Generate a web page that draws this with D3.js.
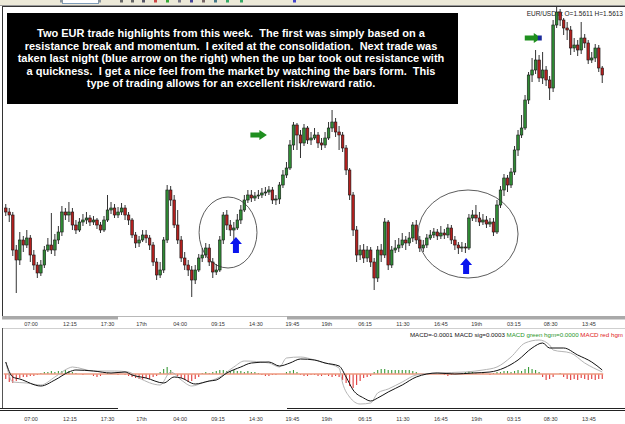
<!DOCTYPE html>
<html>
<head>
<meta charset="utf-8">
<script src="https://cdn.jsdelivr.net/npm/d3@7"></script>
<style>
body { margin: 0; background: #fff; }
svg { display: block; }
</style>
</head>
<body>
<div id="chart"></div>
<script>
// EUR/USD bars: [open, high, low, close]
const ohlc = [
[1.5471,1.5475,1.5463,1.5467],[1.5467,1.5471,1.5457,1.5464],[1.5464,1.5467,1.5423,1.5429],[1.5429,1.5434,1.5386,1.5419],
[1.5419,1.5447,1.5414,1.5439],[1.5439,1.5443,1.5427,1.5434],[1.5434,1.5449,1.5431,1.5441],[1.5441,1.5444,1.5417,1.5424],
[1.5424,1.5429,1.5409,1.5414],[1.5414,1.5417,1.5401,1.5406],[1.5406,1.5419,1.5403,1.5414],[1.5414,1.5433,1.5411,1.5429],
[1.5429,1.5441,1.5427,1.5434],[1.5434,1.5466,1.5425,1.5429],[1.5429,1.5445,1.5423,1.5439],[1.5439,1.5453,1.5435,1.5447],
[1.5447,1.5473,1.5443,1.5467],[1.5467,1.5471,1.5459,1.5464],[1.5464,1.5477,1.5457,1.5467],[1.5467,1.5471,1.5449,1.5454],
[1.5454,1.5459,1.5445,1.5449],[1.5449,1.5461,1.5447,1.5457],[1.5457,1.5465,1.5453,1.5459],[1.5459,1.5467,1.5455,1.5461],
[1.5461,1.5464,1.5453,1.5457],[1.5457,1.5463,1.5454,1.5459],[1.5459,1.5461,1.5450,1.5454],[1.5454,1.5457,1.5446,1.5449],
[1.5449,1.5463,1.5447,1.5459],[1.5459,1.5484,1.5457,1.5469],[1.5469,1.5477,1.5465,1.5471],[1.5471,1.5475,1.5461,1.5464],
[1.5464,1.5472,1.5461,1.5467],[1.5467,1.5476,1.5464,1.5471],[1.5471,1.5474,1.5459,1.5464],[1.5464,1.5467,1.5454,1.5459],
[1.5459,1.5461,1.5441,1.5444],[1.5444,1.5447,1.5431,1.5436],[1.5436,1.5443,1.5432,1.5439],[1.5439,1.5449,1.5437,1.5444],
[1.5444,1.5449,1.5436,1.5441],[1.5441,1.5444,1.5429,1.5434],[1.5434,1.5437,1.5413,1.5417],[1.5417,1.5421,1.5399,1.5404],
[1.5404,1.5417,1.5401,1.5409],[1.5409,1.5442,1.5406,1.5439],[1.5439,1.5494,1.5436,1.5489],[1.5489,1.5493,1.5473,1.5479],
[1.5479,1.5484,1.5451,1.5454],[1.5454,1.5469,1.5435,1.5439],[1.5439,1.5443,1.5417,1.5421],[1.5421,1.5427,1.5409,1.5414],
[1.5414,1.5419,1.5403,1.5409],[1.5409,1.5413,1.5382,1.5399],[1.5399,1.5414,1.5395,1.5409],[1.5409,1.5425,1.5407,1.5421],
[1.5421,1.5431,1.5417,1.5424],[1.5424,1.5436,1.5421,1.5431],[1.5431,1.5435,1.5413,1.5417],[1.5417,1.5421,1.5401,1.5407],
[1.5407,1.5415,1.5404,1.5409],[1.5409,1.5443,1.5407,1.5439],[1.5439,1.5467,1.5435,1.5464],[1.5464,1.5469,1.5449,1.5454],
[1.5454,1.5459,1.5443,1.5449],[1.5449,1.5457,1.5439,1.5451],[1.5451,1.5465,1.5449,1.5459],[1.5459,1.5474,1.5455,1.5469],
[1.5469,1.5484,1.5467,1.5479],[1.5479,1.5489,1.5476,1.5484],[1.5484,1.5489,1.5477,1.5481],[1.5481,1.5487,1.5478,1.5483],
[1.5483,1.5489,1.5480,1.5484],[1.5484,1.5491,1.5481,1.5486],[1.5486,1.5492,1.5483,1.5487],[1.5487,1.5493,1.5484,1.5489],
[1.5489,1.5492,1.5475,1.5479],[1.5479,1.5484,1.5474,1.5480],[1.5480,1.5497,1.5475,1.5494],[1.5494,1.5509,1.5491,1.5504],
[1.5504,1.5517,1.5501,1.5511],[1.5511,1.5539,1.5509,1.5534],[1.5534,1.5557,1.5529,1.5554],[1.5554,1.5556,1.5529,1.5544],
[1.5544,1.5549,1.5521,1.5536],[1.5536,1.5555,1.5533,1.5551],[1.5551,1.5553,1.5535,1.5539],[1.5539,1.5547,1.5534,1.5541],
[1.5541,1.5551,1.5539,1.5544],[1.5544,1.5547,1.5531,1.5536],[1.5536,1.5541,1.5529,1.5534],[1.5534,1.5547,1.5531,1.5541],
[1.5541,1.5557,1.5539,1.5551],[1.5551,1.5569,1.5547,1.5557],[1.5557,1.5561,1.5542,1.5547],[1.5547,1.5553,1.5529,1.5544],
[1.5544,1.5547,1.5527,1.5531],[1.5531,1.5534,1.5504,1.5509],[1.5509,1.5511,1.5479,1.5484],[1.5484,1.5487,1.5443,1.5449],
[1.5449,1.5453,1.5417,1.5424],[1.5424,1.5434,1.5419,1.5429],[1.5429,1.5435,1.5416,1.5421],[1.5421,1.5433,1.5417,1.5429],
[1.5429,1.5432,1.5412,1.5417],[1.5417,1.5421,1.5389,1.5401],[1.5401,1.5433,1.5397,1.5429],[1.5429,1.5435,1.5417,1.5424],
[1.5424,1.5461,1.5421,1.5457],[1.5457,1.5459,1.5409,1.5414],[1.5414,1.5433,1.5411,1.5429],[1.5429,1.5439,1.5426,1.5431],
[1.5431,1.5441,1.5427,1.5434],[1.5434,1.5446,1.5431,1.5439],[1.5439,1.5443,1.5429,1.5436],[1.5436,1.5447,1.5433,1.5441],
[1.5441,1.5457,1.5437,1.5454],[1.5454,1.5459,1.5435,1.5439],[1.5439,1.5443,1.5427,1.5431],[1.5431,1.5439,1.5427,1.5434],
[1.5434,1.5445,1.5431,1.5441],[1.5441,1.5449,1.5439,1.5444],[1.5444,1.5451,1.5441,1.5447],[1.5447,1.5450,1.5439,1.5443],
[1.5443,1.5453,1.5440,1.5446],[1.5446,1.5450,1.5440,1.5444],[1.5444,1.5455,1.5441,1.5451],[1.5451,1.5454,1.5435,1.5439],
[1.5439,1.5443,1.5429,1.5434],[1.5434,1.5437,1.5425,1.5431],[1.5431,1.5437,1.5427,1.5432],[1.5432,1.5436,1.5426,1.5431],
[1.5431,1.5465,1.5429,1.5461],[1.5461,1.5469,1.5458,1.5464],[1.5464,1.5474,1.5457,1.5461],[1.5461,1.5467,1.5453,1.5457],
[1.5457,1.5465,1.5454,1.5459],[1.5459,1.5463,1.5451,1.5455],[1.5455,1.5461,1.5452,1.5457],[1.5457,1.5461,1.5443,1.5447],
[1.5447,1.5479,1.5445,1.5474],[1.5474,1.5493,1.5471,1.5489],[1.5489,1.5505,1.5483,1.5501],[1.5501,1.5504,1.5487,1.5494],
[1.5494,1.5511,1.5491,1.5507],[1.5507,1.5533,1.5504,1.5529],[1.5529,1.5549,1.5523,1.5544],[1.5544,1.5564,1.5541,1.5551],
[1.5551,1.5584,1.5549,1.5579],[1.5579,1.5607,1.5575,1.5604],[1.5604,1.5621,1.5597,1.5609],[1.5609,1.5629,1.5605,1.5619],
[1.5619,1.5624,1.5597,1.5601],[1.5601,1.5627,1.5595,1.5609],[1.5609,1.5613,1.5593,1.5599],[1.5599,1.5603,1.5579,1.5591],
[1.5591,1.5659,1.5587,1.5654],[1.5654,1.5672,1.5651,1.5667],[1.5667,1.5670,1.5653,1.5659],[1.5659,1.5661,1.5644,1.5651],
[1.5651,1.5657,1.5639,1.5649],[1.5649,1.5653,1.5624,1.5631],[1.5631,1.5641,1.5627,1.5634],[1.5634,1.5639,1.5623,1.5629],
[1.5629,1.5657,1.5625,1.5641],[1.5641,1.5645,1.5631,1.5636],[1.5636,1.5639,1.5615,1.5619],[1.5619,1.5627,1.5616,1.5621],
[1.5621,1.5635,1.5617,1.5631],[1.5631,1.5634,1.5607,1.5611],[1.5611,1.5613,1.5596,1.5604]
];

// MACD histogram, one value per bar
const histogram = [
-0.0005,-0.0008,-0.0009,-0.0007,-0.0004,-0.0003,-0.0003,-0.0002,-0.0002,-0.0001,
0.0001,0.0002,0.0002,0.0003,0.0002,0.0003,0.0003,0.0004,0.0003,0.0002,
0.0001,0,-0.0001,0,0,-0.0002,-0.0003,-0.0002,0,0.0001,
0,0,-0.0001,0,-0.0001,-0.0002,-0.0003,-0.0004,-0.0005,-0.0006,
-0.0004,-0.0005,-0.0003,-0.0002,0.0002,0.0005,0.0007,0.0004,0.0001,-0.0002,
-0.0004,-0.0006,-0.0008,-0.0007,-0.0005,-0.0003,0.0001,0.0002,0.0001,0.0002,
0.0003,0.0004,0.0004,0.0003,0.0003,0.0004,0.0003,0.0003,0.0002,0.0003,
0.0002,0.0002,0.0001,-0.0001,-0.0002,-0.0002,-0.0001,-0.0001,0,0,
0.0002,0.0003,0.0004,0.0002,-0.0001,-0.0002,-0.0002,-0.0001,-0.0001,-0.0002,
-0.0002,-0.0001,-0.0002,-0.0003,-0.0002,-0.0003,-0.0006,-0.0009,-0.0012,-0.0014,
-0.0011,-0.0007,-0.0004,-0.0003,-0.0002,0.0002,0.0004,0.0005,0.0005,0.0004,
0.0004,0.0004,0.0004,0.0004,0.0004,0.0004,0.0003,0.0002,0,0,
0.0001,0.0001,0,0.0001,0.0001,-0.0001,-0.0002,-0.0001,0,0,
0.0001,0.0002,0.0003,0.0002,0.0001,0,0.0001,0,-0.0001,0.0001,
0.0002,0.0002,0.0003,0.0003,0.0002,0.0003,0.0004,0.0003,0.0005,0.0007,
0.0005,0.0004,0.0002,-0.0003,-0.0006,-0.0005,-0.0003,0,0.0001,-0.0003,
-0.0005,-0.0006,-0.0005,-0.0006,-0.0004,-0.0005,-0.0006,-0.0005,-0.0006,-0.0005,-0.0005
];

// MACD and signal lines: [bar index, value]
const macdLine = [
[0,0.0012],[2,-0.0003],[4,-0.0005],[10,-0.0012],[14,-0.0006],[18,0.0002],[20,0.0004],[25,0.0003],
[30,0.0001],[34,0.0002],[36,-0.0001],[40,-0.0004],[45,-0.0009],[48,-0.0003],[50,-0.0004],[54,-0.0010],
[58,-0.0007],[60,-0.0006],[63,0.0001],[67,0.0007],[70,0.0011],[75,0.0012],[78,0.0008],[81,0.0011],
[84,0.0015],[88,0.0014],[91,0.0011],[95,0.0008],[97,-0.0003],[99,-0.0016],[102,-0.0024],[104,-0.0027],
[106,-0.0024],[109,-0.0018],[113,-0.0011],[117,-0.0003],[123,0.0001],[128,0],[133,0.0001],[138,0.0002],
[142,0.0006],[146,0.0014],[150,0.0026],[153,0.0031],[155,0.0026],[159,0.0026],[163,0.0019],[167,0.0012],[170,0.0004]
];
const signalLine = [
[0,0.0012],[2,-0.0008],[6,-0.0009],[10,-0.0011],[14,-0.0003],[18,0.0006],[19,0.0007],[25,0.0003],
[31,0.0003],[35,0.0002],[38,-0.0004],[44,-0.0011],[47,0.0002],[50,-0.0006],[53,-0.0012],[56,-0.0009],
[61,-0.0003],[65,0.0007],[68,0.0013],[75,0.0011],[78,0.0007],[80,0.0016],[84,0.0017],[88,0.0014],
[91,0.0011],[95,0.0006],[96,-0.0009],[98,-0.0023],[101,-0.0030],[104,-0.0029],[106,-0.0019],[109,-0.0015],
[113,-0.0008],[117,-0.0001],[123,0.0001],[131,0.0002],[136,0.0004],[140,0.0007],[144,0.0017],[148,0.0031],
[152,0.0034],[155,0.0029],[156,0.0024],[161,0.0021],[165,0.0011],[170,0.0002]
];

// time axis: label and the bar it sits on
const tickLabels = ["07:00","12:15","17:30","17th","04:00","09:15","14:30","19:45","19th","06:15","11:30","16:45","19th","03:15","08:30","13:45"];
const tickBars = [7.2, 18.3, 29, 38.7, 49.7, 60.5, 71.3, 81.7, 91.5, 102.4, 113.2, 124, 134.2, 144.8, 155.3, 166.2];

// annotations, in bar / price terms
const rightArrows = [[72.5, 1.5544], [150.7, 1.5641]];
const upArrows = [[66.1, 1.5442], [131.7, 1.5421]];
const rings = [[55.6, 72.1, 1.5482, 1.5411], [118.0, 146.5, 1.5489, 1.5401]];

const noteLines = [
    "Two EUR trade highlights from this week.  The first was simply based on a",
    "resistance break and momentum.  I exited at the consolidation.  Next trade was",
    "taken last night (blue arrow on the right) when the up bar took out resistance with",
    "a quickness.  I get a nice feel from the market by watching the bars form.  This",
    "type of trading allows for an excellent risk/reward ratio."
];


class CandleChart {

    constructor(_parentElement) {
        this.parentElementID = _parentElement;
        this.width = 625;
        this.height = 424;
        this.initVis();
    }

    initVis() {
        const self = this;

        self.svg = d3.select("#" + self.parentElementID).append("svg")
            .attr("width", self.width)
            .attr("height", self.height)
            .style("font-family", "'Liberation Sans', Arial, sans-serif");

        self.xScale = d3.scaleLinear().domain([0, ohlc.length]).range([4, 604]);
        self.cx = i => self.xScale(i + 0.5);
        self.yScale = d3.scaleLinear().domain([1.5379, 1.5679]).range([300, 0]);
        self.mScale = d3.scaleLinear().domain([-0.0034, 0.0046]).range([408, 328]);

        self.drawFrame();
        self.drawCandles();
        self.drawNotes();
        self.drawMacd();
        self.drawAxes();
    }

    drawFrame() {
        const self = this;
        // bit of the toolbar above the chart
        self.svg.append("rect").attr("x", 0).attr("y", 0).attr("width", self.width).attr("height", 5).attr("fill", "#ece9d8");
        self.svg.append("rect").attr("x", 62.5).attr("y", -2).attr("width", 36).attr("height", 5.5)
            .attr("fill", "#fff").attr("stroke", "#7f9db9");
        [60, 98, 120, 131, 142, 154, 166, 178, 190, 202, 214, 226, 240, 293].forEach((x, k) => {
            self.svg.append("rect").attr("x", x).attr("y", 0).attr("width", 3).attr("height", 2.5)
                .attr("fill", ["#8a96a0", "#8a96a0", "#666", "#666", "#556", "#c44", "#3a3", "#778", "#449", "#766", "#478", "#3a6", "#3a6", "#44c"][k]);
        });
        self.svg.append("line").attr("x1", 0).attr("x2", self.width).attr("y1", 5.5).attr("y2", 5.5).attr("stroke", "#9a9a9a");
        self.svg.append("line").attr("x1", 2).attr("x2", self.width).attr("y1", 6.5).attr("y2", 6.5).attr("stroke", "#333");
        self.svg.append("line").attr("x1", 2.5).attr("x2", 2.5).attr("y1", 6).attr("y2", 317).attr("stroke", "#333");

        // symbol readout, from the last bar
        const last = ohlc[ohlc.length - 1];
        self.svg.append("text")
            .attr("x", 623).attr("y", 15.5)
            .attr("text-anchor", "end")
            .attr("font-size", 6.5).attr("fill", "#222")
            .text(`EUR/USD fx O=${last[0].toFixed(4)} H=${last[1].toFixed(4)}`);
    }

    drawCandles() {
        const self = this;
        const g = self.svg.append("g");

        g.selectAll(".wick")
            .data(ohlc)
            .join("line")
            .attr("class", "wick")
            .attr("x1", (d, i) => self.cx(i))
            .attr("x2", (d, i) => self.cx(i))
            .attr("y1", d => self.yScale(d[1]))
            .attr("y2", d => self.yScale(d[2]))
            .attr("stroke", "#1c1c1c")
            .attr("stroke-width", 0.9);

        g.selectAll(".body")
            .data(ohlc)
            .join("rect")
            .attr("class", "body")
            .attr("x", (d, i) => self.cx(i) - 1.3)
            .attr("width", 2.6)
            .attr("y", d => self.yScale(Math.max(d[0], d[3])))
            .attr("height", d => Math.max(1, Math.abs(self.yScale(d[0]) - self.yScale(d[3]))))
            .attr("fill", d => d[3] >= d[0] ? "#2f8a34" : "#b3201e")
            .attr("stroke", "#151515")
            .attr("stroke-width", 0.6);
    }

    drawNotes() {
        const self = this;

        self.svg.append("rect")
            .attr("x", 7).attr("y", 13).attr("width", 451).attr("height", 91)
            .attr("fill", "#000");

        self.svg.selectAll(".note-line")
            .data(noteLines)
            .join("text")
            .attr("class", "note-line")
            .attr("x", 231)
            .attr("y", (d, i) => 37 + i * 12.5)
            .attr("text-anchor", "middle")
            .attr("font-size", 11)
            .attr("font-weight", "bold")
            .attr("fill", "#fff")
            .style("white-space", "pre")
            .text(d => d);

        self.svg.selectAll(".ring")
            .data(rings)
            .join("ellipse")
            .attr("class", "ring")
            .attr("cx", d => (self.xScale(d[0]) + self.xScale(d[1])) / 2)
            .attr("cy", d => (self.yScale(d[2]) + self.yScale(d[3])) / 2)
            .attr("rx", d => (self.xScale(d[1]) - self.xScale(d[0])) / 2)
            .attr("ry", d => (self.yScale(d[3]) - self.yScale(d[2])) / 2)
            .attr("fill", "none")
            .attr("stroke", "#333")
            .attr("stroke-width", 0.8);

        self.svg.selectAll(".right-arrow")
            .data(rightArrows)
            .join("path")
            .attr("class", "right-arrow")
            .attr("d", d => {
                const x = self.xScale(d[0]), y = self.yScale(d[1]);
                return `M${x - 8},${y - 2.5}L${x + 1},${y - 2.5}L${x + 1},${y - 5}L${x + 8.5},${y}L${x + 1},${y + 5}L${x + 1},${y + 2.5}L${x - 8},${y + 2.5}Z`;
            })
            .attr("fill", "#1f8f1f");

        // little blue tip peeking out of the second green arrow
        const tip = rightArrows[1];
        self.svg.append("rect")
            .attr("x", self.xScale(tip[0]) + 5).attr("y", self.yScale(tip[1]) - 2.5)
            .attr("width", 4).attr("height", 5).attr("fill", "#1a2a9a");

        self.svg.selectAll(".up-arrow")
            .data(upArrows)
            .join("path")
            .attr("class", "up-arrow")
            .attr("d", d => {
                const x = self.xScale(d[0]), y = self.yScale(d[1]);
                return `M${x},${y}L${x + 6},${y + 7}L${x + 3},${y + 7}L${x + 3},${y + 16}L${x - 3},${y + 16}L${x - 3},${y + 7}L${x - 6},${y + 7}Z`;
            })
            .attr("fill", "#0a14ee");
    }

    drawMacd() {
        const self = this;
        const zero = self.mScale(0);

        self.svg.selectAll(".hgm")
            .data(histogram)
            .join("line")
            .attr("class", "hgm")
            .attr("x1", (d, i) => self.cx(i))
            .attr("x2", (d, i) => self.cx(i))
            .attr("y1", zero)
            .attr("y2", d => self.mScale(d))
            .attr("stroke", d => d >= 0 ? "#3a9a3a" : "#e03a3a")
            .attr("stroke-width", 1.1);

        self.svg.append("line")
            .attr("x1", self.cx(0) - 2).attr("x2", self.cx(histogram.length - 1) + 1)
            .attr("y1", zero).attr("y2", zero)
            .attr("stroke", "#ec9a80").attr("stroke-width", 1.3);

        const line = d3.line()
            .x(d => self.cx(d[0]))
            .y(d => self.mScale(d[1]))
            .curve(d3.curveMonotoneX);

        self.svg.append("path")
            .datum(signalLine)
            .attr("d", line)
            .attr("fill", "none")
            .attr("stroke", "#b4b4b4")
            .attr("stroke-width", 1);

        self.svg.append("path")
            .datum(macdLine)
            .attr("d", line)
            .attr("fill", "none")
            .attr("stroke", "#111")
            .attr("stroke-width", 1);

        const legend = self.svg.append("text")
            .attr("x", 623).attr("y", 337)
            .attr("text-anchor", "end")
            .attr("font-size", 6.2)
            .style("white-space", "pre");
        legend.append("tspan").attr("fill", "#111").text("MACD=-0.0001 MACD sig=0.0003 ");
        legend.append("tspan").attr("fill", "#2a962a").text("MACD green hgm=0.0000 ");
        legend.append("tspan").attr("fill", "#e02020").text("MACD red hgm");
    }

    drawAxes() {
        const self = this;

        // upper time strip
        self.svg.append("line").attr("x1", 118).attr("x2", 287).attr("y1", 316.5).attr("y2", 316.5).attr("stroke", "#b8b8b8");
        [[2, 118], [287, self.width]].forEach(s => {
            self.svg.append("rect").attr("x", s[0]).attr("y", 316).attr("width", s[1] - s[0]).attr("height", 3.5).attr("fill", "#a9a9a9");
        });
        self.svg.append("line").attr("x1", 2).attr("x2", self.width).attr("y1", 328.5).attr("y2", 328.5).attr("stroke", "#cfcfcf");
        self.svg.append("line").attr("x1", 2.5).attr("x2", 2.5).attr("y1", 328).attr("y2", 409).attr("stroke", "#555");

        // lower time strip
        self.svg.append("line").attr("x1", 0).attr("x2", self.width).attr("y1", 410.5).attr("y2", 410.5).attr("stroke", "#222");
        [[0, 118], [287, self.width]].forEach(s => {
            self.svg.append("line").attr("x1", s[0]).attr("x2", s[1]).attr("y1", 408.5).attr("y2", 408.5).attr("stroke", "#222");
        });

        [326, 421].forEach(y => {
            self.svg.append("g").selectAll("text")
                .data(tickLabels)
                .join("text")
                .attr("x", (d, i) => self.cx(tickBars[i]))
                .attr("y", y)
                .attr("text-anchor", "middle")
                .attr("font-size", 5.5)
                .attr("fill", "#333")
                .text(d => d);
        });
    }
}

new CandleChart("chart");
</script>
</body>
</html>
